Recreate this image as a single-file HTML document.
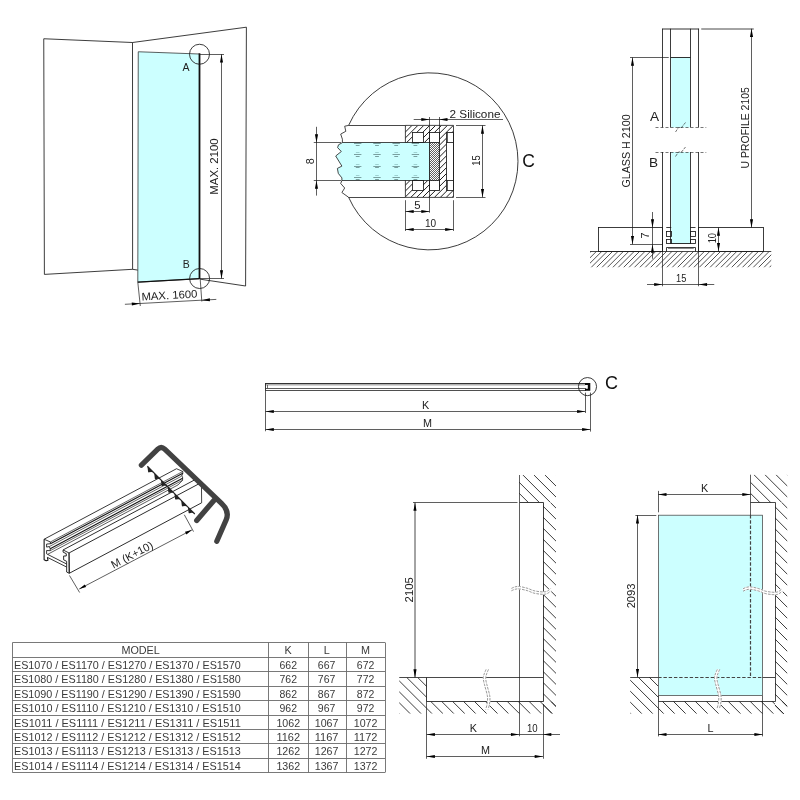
<!DOCTYPE html>
<html><head><meta charset="utf-8"><title>Drawing</title>
<style>html,body{margin:0;padding:0;background:#fff;overflow:hidden}svg{display:block;will-change:transform;opacity:0.9999}</style></head>
<body>
<svg width="800" height="800" viewBox="0 0 800 800" font-family="'Liberation Sans', sans-serif">
<rect x="0" y="0" width="800" height="800" fill="#fff"/>
<g id="room">
<path d="M43.75,38.75 L132.50,42.50 L132.60,269.30 L44.40,274.40 Z" fill="none" stroke="#1a1a1a" stroke-width="0.85" />
<path d="M132.50,42.50 L246.40,27.20 L245.60,286.00 L200.20,279.20" fill="none" stroke="#1a1a1a" stroke-width="0.85" />
<line x1="132.60" y1="269.30" x2="137.80" y2="270.10" stroke="#1a1a1a" stroke-width="0.85" />
<path d="M138.25,51.75 L199.50,54.00 L199.50,278.70 L137.80,282.20 Z" fill="#ccffff" stroke="#1a1a1a" stroke-width="0.7" />
<line x1="199.50" y1="53.30" x2="199.50" y2="279.00" stroke="#111" stroke-width="1.8" />
<line x1="137.80" y1="282.20" x2="199.50" y2="278.70" stroke="#111" stroke-width="1.3" />
<circle cx="199.5" cy="54.25" r="10" fill="none" stroke="#1a1a1a" stroke-width="0.85"/>
<circle cx="199.6" cy="278.5" r="10" fill="none" stroke="#1a1a1a" stroke-width="0.85"/>
<line x1="199.50" y1="54.50" x2="224.00" y2="54.50" stroke="#1a1a1a" stroke-width="0.7" />
<line x1="199.50" y1="278.50" x2="224.00" y2="278.50" stroke="#1a1a1a" stroke-width="0.7" />
<line x1="221.50" y1="54.25" x2="221.50" y2="278.50" stroke="#1a1a1a" stroke-width="0.7" />
<path d="M221.50,54.25 L223.05,62.55 L219.95,62.55 Z" fill="#000"/>
<path d="M221.50,278.50 L219.95,270.20 L223.05,270.20 Z" fill="#000"/>
<text transform="translate(214.40,166.50) rotate(-90)" x="0" y="3.94" font-size="11" text-anchor="middle" fill="#222" textLength="56.4" lengthAdjust="spacingAndGlyphs">MAX. 2100</text>
<text transform="translate(186.00,67.30) rotate(0)" x="0" y="3.76" font-size="10.5" text-anchor="middle" fill="#222">A</text>
<text transform="translate(186.30,264.50) rotate(0)" x="0" y="3.76" font-size="10.5" text-anchor="middle" fill="#222">B</text>
<line x1="137.80" y1="282.20" x2="140.30" y2="306.00" stroke="#1a1a1a" stroke-width="0.7" />
<line x1="200.20" y1="279.00" x2="201.80" y2="301.50" stroke="#1a1a1a" stroke-width="0.7" />
<line x1="124.90" y1="304.30" x2="216.30" y2="299.40" stroke="#1a1a1a" stroke-width="0.7" />
<path d="M140.10,303.50 L131.89,305.49 L131.73,302.40 Z" fill="#000"/>
<path d="M201.60,300.20 L209.81,298.21 L209.97,301.30 Z" fill="#000"/>
<text transform="translate(169.40,295.00) rotate(-3)" x="0" y="3.94" font-size="11" text-anchor="middle" fill="#222" textLength="56" lengthAdjust="spacingAndGlyphs">MAX. 1600</text>
</g>
<g id="detailC">
<path d="M348.60,125.4 A88.5,88.5 0 1 1 348.60,197.3" fill="none" stroke="#1a1a1a" stroke-width="0.85"/>
<path d="M429.6,142.6 L342.4,142.6 L338.5,144.8 L337.6,147.6 L341.3,151.5 L335.7,156 L341.9,166.1 L337.4,168.4 L338.3,173.4 L341.9,177.9 L341.9,180.4 L429.6,180.4 Z" fill="#ccffff" stroke="none"/>
<path d="M348.6,125.4 L344.7,126.2 L345.8,131.3 L340.7,134.1 L342.4,139.2 L342.4,142.6 L338.5,144.8 L337.6,147.6 L341.3,151.5 L335.7,156 L341.9,166.1 L337.4,168.4 L338.3,173.4 L341.9,177.9 L341.9,180.4 L340.7,183.5 L344.7,188 L341.9,192.5 L348.6,197.3" fill="none" stroke="#1a1a1a" stroke-width="0.8" stroke-linejoin="round"/>
<line x1="342.40" y1="142.50" x2="429.60" y2="142.50" stroke="#1a1a1a" stroke-width="0.8" />
<line x1="341.90" y1="180.50" x2="429.60" y2="180.50" stroke="#1a1a1a" stroke-width="0.8" />
<line x1="348.60" y1="125.50" x2="405.40" y2="125.50" stroke="#1a1a1a" stroke-width="0.8" />
<line x1="348.60" y1="197.50" x2="405.40" y2="197.50" stroke="#1a1a1a" stroke-width="0.8" />
<line x1="354.00" y1="143.50" x2="361.40" y2="143.50" stroke="#577" stroke-width="0.7" />
<line x1="355.80" y1="145.50" x2="359.60" y2="145.50" stroke="#577" stroke-width="0.7" />
<line x1="355.90" y1="152.50" x2="359.50" y2="152.50" stroke="#7aa" stroke-width="0.55" />
<line x1="354.00" y1="154.50" x2="361.40" y2="154.50" stroke="#577" stroke-width="0.7" />
<line x1="355.80" y1="156.50" x2="359.60" y2="156.50" stroke="#577" stroke-width="0.7" />
<line x1="355.90" y1="164.50" x2="359.50" y2="164.50" stroke="#7aa" stroke-width="0.55" />
<line x1="354.00" y1="166.50" x2="361.40" y2="166.50" stroke="#577" stroke-width="0.7" />
<line x1="355.80" y1="167.50" x2="359.60" y2="167.50" stroke="#577" stroke-width="0.7" />
<line x1="355.90" y1="175.50" x2="359.50" y2="175.50" stroke="#7aa" stroke-width="0.55" />
<line x1="354.00" y1="177.50" x2="361.40" y2="177.50" stroke="#577" stroke-width="0.7" />
<line x1="355.80" y1="179.50" x2="359.60" y2="179.50" stroke="#577" stroke-width="0.7" />
<line x1="373.30" y1="143.50" x2="380.70" y2="143.50" stroke="#577" stroke-width="0.7" />
<line x1="375.10" y1="145.50" x2="378.90" y2="145.50" stroke="#577" stroke-width="0.7" />
<line x1="375.20" y1="152.50" x2="378.80" y2="152.50" stroke="#7aa" stroke-width="0.55" />
<line x1="373.30" y1="154.50" x2="380.70" y2="154.50" stroke="#577" stroke-width="0.7" />
<line x1="375.10" y1="156.50" x2="378.90" y2="156.50" stroke="#577" stroke-width="0.7" />
<line x1="375.20" y1="164.50" x2="378.80" y2="164.50" stroke="#7aa" stroke-width="0.55" />
<line x1="373.30" y1="166.50" x2="380.70" y2="166.50" stroke="#577" stroke-width="0.7" />
<line x1="375.10" y1="167.50" x2="378.90" y2="167.50" stroke="#577" stroke-width="0.7" />
<line x1="375.20" y1="175.50" x2="378.80" y2="175.50" stroke="#7aa" stroke-width="0.55" />
<line x1="373.30" y1="177.50" x2="380.70" y2="177.50" stroke="#577" stroke-width="0.7" />
<line x1="375.10" y1="179.50" x2="378.90" y2="179.50" stroke="#577" stroke-width="0.7" />
<line x1="392.50" y1="143.50" x2="399.90" y2="143.50" stroke="#577" stroke-width="0.7" />
<line x1="394.30" y1="145.50" x2="398.10" y2="145.50" stroke="#577" stroke-width="0.7" />
<line x1="394.40" y1="152.50" x2="398.00" y2="152.50" stroke="#7aa" stroke-width="0.55" />
<line x1="392.50" y1="154.50" x2="399.90" y2="154.50" stroke="#577" stroke-width="0.7" />
<line x1="394.30" y1="156.50" x2="398.10" y2="156.50" stroke="#577" stroke-width="0.7" />
<line x1="394.40" y1="164.50" x2="398.00" y2="164.50" stroke="#7aa" stroke-width="0.55" />
<line x1="392.50" y1="166.50" x2="399.90" y2="166.50" stroke="#577" stroke-width="0.7" />
<line x1="394.30" y1="167.50" x2="398.10" y2="167.50" stroke="#577" stroke-width="0.7" />
<line x1="394.40" y1="175.50" x2="398.00" y2="175.50" stroke="#7aa" stroke-width="0.55" />
<line x1="392.50" y1="177.50" x2="399.90" y2="177.50" stroke="#577" stroke-width="0.7" />
<line x1="394.30" y1="179.50" x2="398.10" y2="179.50" stroke="#577" stroke-width="0.7" />
<line x1="411.70" y1="143.50" x2="419.10" y2="143.50" stroke="#577" stroke-width="0.7" />
<line x1="413.50" y1="145.50" x2="417.30" y2="145.50" stroke="#577" stroke-width="0.7" />
<line x1="413.60" y1="152.50" x2="417.20" y2="152.50" stroke="#7aa" stroke-width="0.55" />
<line x1="411.70" y1="154.50" x2="419.10" y2="154.50" stroke="#577" stroke-width="0.7" />
<line x1="413.50" y1="156.50" x2="417.30" y2="156.50" stroke="#577" stroke-width="0.7" />
<line x1="413.60" y1="164.50" x2="417.20" y2="164.50" stroke="#7aa" stroke-width="0.55" />
<line x1="411.70" y1="166.50" x2="419.10" y2="166.50" stroke="#577" stroke-width="0.7" />
<line x1="413.50" y1="167.50" x2="417.30" y2="167.50" stroke="#577" stroke-width="0.7" />
<line x1="413.60" y1="175.50" x2="417.20" y2="175.50" stroke="#7aa" stroke-width="0.55" />
<line x1="411.70" y1="177.50" x2="419.10" y2="177.50" stroke="#577" stroke-width="0.7" />
<line x1="413.50" y1="179.50" x2="417.30" y2="179.50" stroke="#577" stroke-width="0.7" />
<clipPath id="prof"><path clip-rule="evenodd" d="M405.4,125.4 H453.5 V197.4 H405.4 Z M412.4,132.6 V142.6 H423 V132.6 Z M429.6,132.6 V190.4 H439.2 V132.6 Z M412.4,180.4 V190.4 H423 V180.4 Z M446.4,132.6 V190.4 H453.5 V132.6 Z M405.4,142.6 V180.4 H429.6 V142.6 Z"/></clipPath>
<g clip-path="url(#prof)">
<line x1="294.00" y1="125.40" x2="222.00" y2="197.40" stroke="#111" stroke-width="0.95" />
<line x1="299.90" y1="125.40" x2="227.90" y2="197.40" stroke="#111" stroke-width="0.95" />
<line x1="305.80" y1="125.40" x2="233.80" y2="197.40" stroke="#111" stroke-width="0.95" />
<line x1="311.70" y1="125.40" x2="239.70" y2="197.40" stroke="#111" stroke-width="0.95" />
<line x1="317.60" y1="125.40" x2="245.60" y2="197.40" stroke="#111" stroke-width="0.95" />
<line x1="323.50" y1="125.40" x2="251.50" y2="197.40" stroke="#111" stroke-width="0.95" />
<line x1="329.40" y1="125.40" x2="257.40" y2="197.40" stroke="#111" stroke-width="0.95" />
<line x1="335.30" y1="125.40" x2="263.30" y2="197.40" stroke="#111" stroke-width="0.95" />
<line x1="341.20" y1="125.40" x2="269.20" y2="197.40" stroke="#111" stroke-width="0.95" />
<line x1="347.10" y1="125.40" x2="275.10" y2="197.40" stroke="#111" stroke-width="0.95" />
<line x1="353.00" y1="125.40" x2="281.00" y2="197.40" stroke="#111" stroke-width="0.95" />
<line x1="358.90" y1="125.40" x2="286.90" y2="197.40" stroke="#111" stroke-width="0.95" />
<line x1="364.80" y1="125.40" x2="292.80" y2="197.40" stroke="#111" stroke-width="0.95" />
<line x1="370.70" y1="125.40" x2="298.70" y2="197.40" stroke="#111" stroke-width="0.95" />
<line x1="376.60" y1="125.40" x2="304.60" y2="197.40" stroke="#111" stroke-width="0.95" />
<line x1="382.50" y1="125.40" x2="310.50" y2="197.40" stroke="#111" stroke-width="0.95" />
<line x1="388.40" y1="125.40" x2="316.40" y2="197.40" stroke="#111" stroke-width="0.95" />
<line x1="394.30" y1="125.40" x2="322.30" y2="197.40" stroke="#111" stroke-width="0.95" />
<line x1="400.20" y1="125.40" x2="328.20" y2="197.40" stroke="#111" stroke-width="0.95" />
<line x1="406.10" y1="125.40" x2="334.10" y2="197.40" stroke="#111" stroke-width="0.95" />
<line x1="412.00" y1="125.40" x2="340.00" y2="197.40" stroke="#111" stroke-width="0.95" />
<line x1="417.90" y1="125.40" x2="345.90" y2="197.40" stroke="#111" stroke-width="0.95" />
<line x1="423.80" y1="125.40" x2="351.80" y2="197.40" stroke="#111" stroke-width="0.95" />
<line x1="429.70" y1="125.40" x2="357.70" y2="197.40" stroke="#111" stroke-width="0.95" />
<line x1="435.60" y1="125.40" x2="363.60" y2="197.40" stroke="#111" stroke-width="0.95" />
<line x1="441.50" y1="125.40" x2="369.50" y2="197.40" stroke="#111" stroke-width="0.95" />
<line x1="447.40" y1="125.40" x2="375.40" y2="197.40" stroke="#111" stroke-width="0.95" />
<line x1="453.30" y1="125.40" x2="381.30" y2="197.40" stroke="#111" stroke-width="0.95" />
<line x1="459.20" y1="125.40" x2="387.20" y2="197.40" stroke="#111" stroke-width="0.95" />
<line x1="465.10" y1="125.40" x2="393.10" y2="197.40" stroke="#111" stroke-width="0.95" />
<line x1="471.00" y1="125.40" x2="399.00" y2="197.40" stroke="#111" stroke-width="0.95" />
<line x1="476.90" y1="125.40" x2="404.90" y2="197.40" stroke="#111" stroke-width="0.95" />
<line x1="482.80" y1="125.40" x2="410.80" y2="197.40" stroke="#111" stroke-width="0.95" />
<line x1="488.70" y1="125.40" x2="416.70" y2="197.40" stroke="#111" stroke-width="0.95" />
<line x1="494.60" y1="125.40" x2="422.60" y2="197.40" stroke="#111" stroke-width="0.95" />
<line x1="500.50" y1="125.40" x2="428.50" y2="197.40" stroke="#111" stroke-width="0.95" />
<line x1="506.40" y1="125.40" x2="434.40" y2="197.40" stroke="#111" stroke-width="0.95" />
<line x1="512.30" y1="125.40" x2="440.30" y2="197.40" stroke="#111" stroke-width="0.95" />
<line x1="518.20" y1="125.40" x2="446.20" y2="197.40" stroke="#111" stroke-width="0.95" />
<line x1="524.10" y1="125.40" x2="452.10" y2="197.40" stroke="#111" stroke-width="0.95" />
<line x1="530.00" y1="125.40" x2="458.00" y2="197.40" stroke="#111" stroke-width="0.95" />
</g>
<path d="M405.40,142.60 L405.40,125.40 L453.50,125.40 L453.50,197.40 L405.40,197.40 L405.40,180.40" fill="none" stroke="#1a1a1a" stroke-width="0.8" />
<rect x="412.50" y="132.50" width="11.00" height="10.00" fill="none" stroke="#1a1a1a" stroke-width="0.85"/>
<rect x="412.50" y="180.50" width="11.00" height="10.00" fill="none" stroke="#1a1a1a" stroke-width="0.85"/>
<rect x="429.50" y="132.50" width="10.00" height="10.00" fill="none" stroke="#1a1a1a" stroke-width="0.85"/>
<rect x="429.50" y="180.50" width="10.00" height="10.00" fill="none" stroke="#1a1a1a" stroke-width="0.85"/>
<pattern id="dots" x="430" y="143" width="2" height="2" patternUnits="userSpaceOnUse"><rect width="2" height="2" fill="#fff"/><rect x="0.05" y="0.05" width="0.9" height="0.9" fill="#3a3a3a"/><rect x="1.05" y="1.05" width="0.9" height="0.9" fill="#3a3a3a"/></pattern>
<rect x="429.6" y="142.6" width="9.6" height="37.8" fill="url(#dots)" stroke="#1a1a1a" stroke-width="0.6"/>
<line x1="429.50" y1="117.00" x2="429.50" y2="212.70" stroke="#1a1a1a" stroke-width="0.7" />
<line x1="439.50" y1="117.00" x2="439.50" y2="190.40" stroke="#1a1a1a" stroke-width="0.7" />
<rect x="446.50" y="132.50" width="7.00" height="58.00" fill="none" stroke="#1a1a1a" stroke-width="0.85"/>
<line x1="446.40" y1="142.50" x2="453.50" y2="142.50" stroke="#1a1a1a" stroke-width="0.85" />
<line x1="446.40" y1="180.50" x2="453.50" y2="180.50" stroke="#1a1a1a" stroke-width="0.85" />
<line x1="447.50" y1="132.60" x2="447.50" y2="142.60" stroke="#1a1a1a" stroke-width="0.7" />
<line x1="447.50" y1="180.40" x2="447.50" y2="190.40" stroke="#1a1a1a" stroke-width="0.7" />
<line x1="313.75" y1="142.50" x2="341.00" y2="142.50" stroke="#1a1a1a" stroke-width="0.7" />
<line x1="313.75" y1="180.50" x2="341.00" y2="180.50" stroke="#1a1a1a" stroke-width="0.7" />
<line x1="316.50" y1="126.80" x2="316.50" y2="195.60" stroke="#1a1a1a" stroke-width="0.7" />
<path d="M316.50,142.60 L314.95,134.30 L318.05,134.30 Z" fill="#000"/>
<path d="M316.50,180.40 L318.05,188.70 L314.95,188.70 Z" fill="#000"/>
<text transform="translate(310.30,161.20) rotate(-90)" x="0" y="3.87" font-size="10.8" text-anchor="middle" fill="#222">8</text>
<line x1="456.00" y1="125.50" x2="485.50" y2="125.50" stroke="#1a1a1a" stroke-width="0.7" />
<line x1="456.00" y1="197.50" x2="485.50" y2="197.50" stroke="#1a1a1a" stroke-width="0.7" />
<line x1="482.50" y1="125.40" x2="482.50" y2="197.30" stroke="#1a1a1a" stroke-width="0.7" />
<path d="M482.50,125.40 L484.05,133.70 L480.95,133.70 Z" fill="#000"/>
<path d="M482.50,197.30 L480.95,189.00 L484.05,189.00 Z" fill="#000"/>
<text transform="translate(476.40,160.60) rotate(-90)" x="0" y="3.87" font-size="10.8" text-anchor="middle" fill="#222" textLength="10.3" lengthAdjust="spacingAndGlyphs">15</text>
<line x1="413.70" y1="119.50" x2="503.00" y2="119.50" stroke="#1a1a1a" stroke-width="0.7" />
<path d="M429.60,119.50 L421.30,121.05 L421.30,117.95 Z" fill="#000"/>
<path d="M439.20,119.50 L447.50,117.95 L447.50,121.05 Z" fill="#000"/>
<text transform="translate(449.50,113.50) rotate(0)" x="0" y="4.05" font-size="11.3" text-anchor="start" fill="#222" textLength="51" lengthAdjust="spacingAndGlyphs">2 Silicone</text>
<line x1="405.50" y1="200.20" x2="405.50" y2="231.00" stroke="#1a1a1a" stroke-width="0.7" />
<line x1="453.50" y1="200.20" x2="453.50" y2="231.00" stroke="#1a1a1a" stroke-width="0.7" />
<line x1="405.40" y1="211.50" x2="429.60" y2="211.50" stroke="#1a1a1a" stroke-width="0.7" />
<path d="M405.40,211.50 L413.70,209.95 L413.70,213.05 Z" fill="#000"/>
<path d="M429.60,211.50 L421.30,213.05 L421.30,209.95 Z" fill="#000"/>
<line x1="405.40" y1="229.50" x2="453.50" y2="229.50" stroke="#1a1a1a" stroke-width="0.7" />
<path d="M405.40,229.50 L413.70,227.95 L413.70,231.05 Z" fill="#000"/>
<path d="M453.50,229.50 L445.20,231.05 L445.20,227.95 Z" fill="#000"/>
<text transform="translate(417.50,205.20) rotate(0)" x="0" y="4.05" font-size="11.3" text-anchor="middle" fill="#222">5</text>
<text transform="translate(430.50,223.20) rotate(0)" x="0" y="4.05" font-size="11.3" text-anchor="middle" fill="#222" textLength="11.2" lengthAdjust="spacingAndGlyphs">10</text>
<text transform="translate(528.50,160.70) rotate(0)" x="0" y="6.26" font-size="17.5" text-anchor="middle" fill="#111">C</text>
</g>
<g id="section">
<clipPath id="c1"><rect x="590.00" y="251.25" width="181.25" height="16.25"/></clipPath>
<g clip-path="url(#c1)">
<line x1="585.75" y1="251.25" x2="569.50" y2="267.50" stroke="#1a1a1a" stroke-width="0.75" />
<line x1="591.15" y1="251.25" x2="574.90" y2="267.50" stroke="#1a1a1a" stroke-width="0.75" />
<line x1="596.55" y1="251.25" x2="580.30" y2="267.50" stroke="#1a1a1a" stroke-width="0.75" />
<line x1="601.95" y1="251.25" x2="585.70" y2="267.50" stroke="#1a1a1a" stroke-width="0.75" />
<line x1="607.35" y1="251.25" x2="591.10" y2="267.50" stroke="#1a1a1a" stroke-width="0.75" />
<line x1="612.75" y1="251.25" x2="596.50" y2="267.50" stroke="#1a1a1a" stroke-width="0.75" />
<line x1="618.15" y1="251.25" x2="601.90" y2="267.50" stroke="#1a1a1a" stroke-width="0.75" />
<line x1="623.55" y1="251.25" x2="607.30" y2="267.50" stroke="#1a1a1a" stroke-width="0.75" />
<line x1="628.95" y1="251.25" x2="612.70" y2="267.50" stroke="#1a1a1a" stroke-width="0.75" />
<line x1="634.35" y1="251.25" x2="618.10" y2="267.50" stroke="#1a1a1a" stroke-width="0.75" />
<line x1="639.75" y1="251.25" x2="623.50" y2="267.50" stroke="#1a1a1a" stroke-width="0.75" />
<line x1="645.15" y1="251.25" x2="628.90" y2="267.50" stroke="#1a1a1a" stroke-width="0.75" />
<line x1="650.55" y1="251.25" x2="634.30" y2="267.50" stroke="#1a1a1a" stroke-width="0.75" />
<line x1="655.95" y1="251.25" x2="639.70" y2="267.50" stroke="#1a1a1a" stroke-width="0.75" />
<line x1="661.35" y1="251.25" x2="645.10" y2="267.50" stroke="#1a1a1a" stroke-width="0.75" />
<line x1="666.75" y1="251.25" x2="650.50" y2="267.50" stroke="#1a1a1a" stroke-width="0.75" />
<line x1="672.15" y1="251.25" x2="655.90" y2="267.50" stroke="#1a1a1a" stroke-width="0.75" />
<line x1="677.55" y1="251.25" x2="661.30" y2="267.50" stroke="#1a1a1a" stroke-width="0.75" />
<line x1="682.95" y1="251.25" x2="666.70" y2="267.50" stroke="#1a1a1a" stroke-width="0.75" />
<line x1="688.35" y1="251.25" x2="672.10" y2="267.50" stroke="#1a1a1a" stroke-width="0.75" />
<line x1="693.75" y1="251.25" x2="677.50" y2="267.50" stroke="#1a1a1a" stroke-width="0.75" />
<line x1="699.15" y1="251.25" x2="682.90" y2="267.50" stroke="#1a1a1a" stroke-width="0.75" />
<line x1="704.55" y1="251.25" x2="688.30" y2="267.50" stroke="#1a1a1a" stroke-width="0.75" />
<line x1="709.95" y1="251.25" x2="693.70" y2="267.50" stroke="#1a1a1a" stroke-width="0.75" />
<line x1="715.35" y1="251.25" x2="699.10" y2="267.50" stroke="#1a1a1a" stroke-width="0.75" />
<line x1="720.75" y1="251.25" x2="704.50" y2="267.50" stroke="#1a1a1a" stroke-width="0.75" />
<line x1="726.15" y1="251.25" x2="709.90" y2="267.50" stroke="#1a1a1a" stroke-width="0.75" />
<line x1="731.55" y1="251.25" x2="715.30" y2="267.50" stroke="#1a1a1a" stroke-width="0.75" />
<line x1="736.95" y1="251.25" x2="720.70" y2="267.50" stroke="#1a1a1a" stroke-width="0.75" />
<line x1="742.35" y1="251.25" x2="726.10" y2="267.50" stroke="#1a1a1a" stroke-width="0.75" />
<line x1="747.75" y1="251.25" x2="731.50" y2="267.50" stroke="#1a1a1a" stroke-width="0.75" />
<line x1="753.15" y1="251.25" x2="736.90" y2="267.50" stroke="#1a1a1a" stroke-width="0.75" />
<line x1="758.55" y1="251.25" x2="742.30" y2="267.50" stroke="#1a1a1a" stroke-width="0.75" />
<line x1="763.95" y1="251.25" x2="747.70" y2="267.50" stroke="#1a1a1a" stroke-width="0.75" />
<line x1="769.35" y1="251.25" x2="753.10" y2="267.50" stroke="#1a1a1a" stroke-width="0.75" />
<line x1="774.75" y1="251.25" x2="758.50" y2="267.50" stroke="#1a1a1a" stroke-width="0.75" />
<line x1="780.15" y1="251.25" x2="763.90" y2="267.50" stroke="#1a1a1a" stroke-width="0.75" />
<line x1="785.55" y1="251.25" x2="769.30" y2="267.50" stroke="#1a1a1a" stroke-width="0.75" />
<line x1="790.95" y1="251.25" x2="774.70" y2="267.50" stroke="#1a1a1a" stroke-width="0.75" />
</g>
<line x1="590.00" y1="251.50" x2="771.25" y2="251.50" stroke="#1a1a1a" stroke-width="0.8" />
<rect x="598.50" y="227.50" width="64.00" height="24.00" fill="none" stroke="#1a1a1a" stroke-width="0.85"/>
<rect x="698.50" y="227.50" width="65.00" height="24.00" fill="none" stroke="#1a1a1a" stroke-width="0.85"/>
<rect x="671.25" y="57.5" width="18.75" height="70" fill="#ccffff"/>
<rect x="671.25" y="152" width="18.75" height="91.75" fill="#ccffff"/>
<line x1="662.50" y1="28.75" x2="662.50" y2="127.50" stroke="#1a1a1a" stroke-width="0.85" />
<line x1="670.50" y1="28.75" x2="670.50" y2="127.50" stroke="#1a1a1a" stroke-width="0.85" />
<line x1="690.50" y1="28.75" x2="690.50" y2="127.50" stroke="#1a1a1a" stroke-width="0.85" />
<line x1="698.50" y1="28.75" x2="698.50" y2="127.50" stroke="#1a1a1a" stroke-width="0.85" />
<line x1="662.50" y1="152.00" x2="662.50" y2="251.25" stroke="#1a1a1a" stroke-width="0.85" />
<line x1="698.50" y1="152.00" x2="698.50" y2="251.25" stroke="#1a1a1a" stroke-width="0.85" />
<line x1="670.50" y1="152.00" x2="670.50" y2="243.75" stroke="#1a1a1a" stroke-width="0.85" />
<line x1="690.50" y1="152.00" x2="690.50" y2="243.75" stroke="#1a1a1a" stroke-width="0.85" />
<line x1="662.10" y1="29.00" x2="699.10" y2="29.00" stroke="#1a1a1a" stroke-width="0.9" />
<line x1="670.60" y1="57.50" x2="690.50" y2="57.50" stroke="#1a1a1a" stroke-width="0.9" />
<line x1="670.60" y1="243.50" x2="690.50" y2="243.50" stroke="#1a1a1a" stroke-width="0.9" />
<line x1="655.50" y1="127.50" x2="706.25" y2="127.50" stroke="#1a1a1a" stroke-width="0.6" stroke-dasharray="3,2"/>
<line x1="655.50" y1="152.50" x2="706.25" y2="152.50" stroke="#1a1a1a" stroke-width="0.6" stroke-dasharray="3,2"/>
<path d="M675.5,132 L678.5,127.5 L681.5,127.5 L685.5,122.5" fill="none" stroke="#1a1a1a" stroke-width="0.6" stroke-dasharray="3,1"/>
<path d="M675.5,156.5 L678.5,152 L681.5,152 L685.5,147" fill="none" stroke="#1a1a1a" stroke-width="0.6" stroke-dasharray="3,1"/>
<rect x="666.50" y="231.50" width="5.00" height="5.00" fill="none" stroke="#1a1a1a" stroke-width="0.85"/>
<rect x="666.50" y="239.50" width="5.00" height="4.00" fill="none" stroke="#1a1a1a" stroke-width="0.85"/>
<rect x="690.50" y="231.50" width="5.00" height="5.00" fill="none" stroke="#1a1a1a" stroke-width="0.85"/>
<rect x="690.50" y="239.50" width="5.00" height="4.00" fill="none" stroke="#1a1a1a" stroke-width="0.85"/>
<line x1="666.25" y1="227.50" x2="671.25" y2="227.50" stroke="#1a1a1a" stroke-width="0.85" />
<line x1="690.00" y1="227.50" x2="695.50" y2="227.50" stroke="#1a1a1a" stroke-width="0.85" />
<path d="M666.50,251.50 L666.50,247.50 L695.50,247.50 L695.50,251.50" fill="none" stroke="#1a1a1a" stroke-width="0.85" />
<line x1="668.00" y1="248.50" x2="693.70" y2="248.50" stroke="#1a1a1a" stroke-width="0.5" />
<line x1="630.00" y1="57.50" x2="668.75" y2="57.50" stroke="#1a1a1a" stroke-width="0.7" />
<line x1="630.00" y1="244.50" x2="662.50" y2="244.50" stroke="#1a1a1a" stroke-width="0.7" />
<line x1="632.50" y1="57.50" x2="632.50" y2="244.25" stroke="#1a1a1a" stroke-width="0.7" />
<path d="M632.50,57.50 L634.05,65.80 L630.95,65.80 Z" fill="#000"/>
<path d="M632.50,244.25 L630.95,235.95 L634.05,235.95 Z" fill="#000"/>
<text transform="translate(626.40,151.00) rotate(-90)" x="0" y="3.87" font-size="10.8" text-anchor="middle" fill="#222" textLength="73.2" lengthAdjust="spacingAndGlyphs">GLASS H 2100</text>
<line x1="701.25" y1="29.00" x2="753.75" y2="29.00" stroke="#1a1a1a" stroke-width="0.8" />
<line x1="751.50" y1="28.75" x2="751.50" y2="227.50" stroke="#1a1a1a" stroke-width="0.7" />
<path d="M751.50,28.75 L753.05,37.05 L749.95,37.05 Z" fill="#000"/>
<path d="M751.50,227.50 L749.95,219.20 L753.05,219.20 Z" fill="#000"/>
<text transform="translate(744.90,127.80) rotate(-90)" x="0" y="3.87" font-size="10.8" text-anchor="middle" fill="#222" textLength="81.2" lengthAdjust="spacingAndGlyphs">U PROFILE 2105</text>
<text transform="translate(654.60,116.00) rotate(0)" x="0" y="4.87" font-size="13.6" text-anchor="middle" fill="#222">A</text>
<text transform="translate(653.60,162.00) rotate(0)" x="0" y="4.87" font-size="13.6" text-anchor="middle" fill="#222">B</text>
<line x1="652.50" y1="212.00" x2="652.50" y2="258.75" stroke="#1a1a1a" stroke-width="0.7" />
<path d="M652.50,227.50 L650.95,219.20 L654.05,219.20 Z" fill="#000"/>
<path d="M652.50,244.40 L654.05,252.70 L650.95,252.70 Z" fill="#000"/>
<text transform="translate(645.60,235.60) rotate(-90)" x="0" y="3.87" font-size="10.8" text-anchor="middle" fill="#222">7</text>
<line x1="718.50" y1="227.50" x2="718.50" y2="251.25" stroke="#1a1a1a" stroke-width="0.7" />
<path d="M718.50,227.50 L720.05,235.80 L716.95,235.80 Z" fill="#000"/>
<path d="M718.50,251.25 L716.95,242.95 L720.05,242.95 Z" fill="#000"/>
<text transform="translate(711.75,238.20) rotate(-90)" x="0" y="3.87" font-size="10.8" text-anchor="middle" fill="#222" textLength="10.3" lengthAdjust="spacingAndGlyphs">10</text>
<line x1="662.50" y1="251.25" x2="662.50" y2="286.25" stroke="#1a1a1a" stroke-width="0.7" />
<line x1="698.50" y1="251.25" x2="698.50" y2="286.25" stroke="#1a1a1a" stroke-width="0.7" />
<line x1="647.00" y1="284.50" x2="714.25" y2="284.50" stroke="#1a1a1a" stroke-width="0.7" />
<path d="M662.50,284.50 L654.20,286.05 L654.20,282.95 Z" fill="#000"/>
<path d="M698.75,284.50 L707.05,282.95 L707.05,286.05 Z" fill="#000"/>
<text transform="translate(681.25,278.00) rotate(0)" x="0" y="3.87" font-size="10.8" text-anchor="middle" fill="#222" textLength="10.3" lengthAdjust="spacingAndGlyphs">15</text>
</g>
<g id="long">
<rect x="265.3" y="383" width="320" height="1.3" fill="#333"/>
<rect x="265.3" y="384.3" width="320" height="1.2" fill="#aaa"/>
<line x1="265.30" y1="388.50" x2="586.00" y2="388.50" stroke="#333" stroke-width="0.8" />
<line x1="265.30" y1="390.50" x2="586.00" y2="390.50" stroke="#222" stroke-width="0.8" />
<line x1="265.50" y1="383.00" x2="265.50" y2="390.60" stroke="#222" stroke-width="0.9" />
<line x1="267.50" y1="385.00" x2="267.50" y2="388.40" stroke="#333" stroke-width="0.7" />
<path d="M585,383 H590.3 V390.7 H585 V388.7 H587.8 V385 H585 Z" fill="#0a0a0a"/>
<circle cx="587.5" cy="386.6" r="9.05" fill="none" stroke="#1a1a1a" stroke-width="0.85"/>
<text transform="translate(611.60,382.60) rotate(0)" x="0" y="6.44" font-size="18" text-anchor="middle" fill="#111">C</text>
<line x1="265.50" y1="390.50" x2="265.50" y2="431.25" stroke="#1a1a1a" stroke-width="0.7" />
<line x1="585.50" y1="392.60" x2="585.50" y2="413.00" stroke="#1a1a1a" stroke-width="0.7" />
<line x1="590.50" y1="392.60" x2="590.50" y2="431.60" stroke="#1a1a1a" stroke-width="0.7" />
<line x1="265.50" y1="411.50" x2="585.40" y2="411.50" stroke="#1a1a1a" stroke-width="0.7" />
<path d="M265.50,411.50 L273.80,409.95 L273.80,413.05 Z" fill="#000"/>
<path d="M585.40,411.50 L577.10,413.05 L577.10,409.95 Z" fill="#000"/>
<line x1="265.50" y1="429.50" x2="590.40" y2="429.50" stroke="#1a1a1a" stroke-width="0.7" />
<path d="M265.50,429.50 L273.80,427.95 L273.80,431.05 Z" fill="#000"/>
<path d="M590.40,429.50 L582.10,431.05 L582.10,427.95 Z" fill="#000"/>
<text transform="translate(425.50,405.50) rotate(0)" x="0" y="3.87" font-size="10.8" text-anchor="middle" fill="#222">K</text>
<text transform="translate(427.50,423.40) rotate(0)" x="0" y="3.87" font-size="10.8" text-anchor="middle" fill="#222">M</text>
</g>
<g id="iso">
<path d="M44.12,539.22 L50.40,541.98 L50.40,543.78 L46.60,544.06 L46.60,547.08 L49.30,546.57 L50.20,548.74 L50.20,550.69 L46.60,550.49 L46.60,553.79 L47.60,554.37" fill="none" stroke="#151515" stroke-width="0.85" stroke-linejoin="round"/>
<path d="M44.12,539.22 L44.12,559.84 L46.16,560.77 L47.97,560.17 L47.42,557.36" fill="none" stroke="#151515" stroke-width="1.1" stroke-linejoin="round"/>
<path d="M47.60,554.37 L66.55,563.96" fill="none" stroke="#151515" stroke-width="0.85" />
<path d="M47.42,557.36 L66.55,566.99" fill="none" stroke="#151515" stroke-width="0.85" stroke-linejoin="round"/>
<path d="M63.09,549.94 L69.03,552.97" fill="none" stroke="#151515" stroke-width="0.85" stroke-linejoin="round"/>
<path d="M63.09,549.94 L63.09,552.14 L66.28,553.68 L66.28,555.99 L63.64,555.99 L63.64,559.84 L66.66,561.32 L66.66,572.04 L69.25,573.31" fill="none" stroke="#151515" stroke-width="0.9" stroke-linejoin="round"/>
<path d="M69.03,552.97 L69.25,573.31" fill="none" stroke="#151515" stroke-width="1.3" stroke-linejoin="round"/>
<line x1="44.12" y1="539.22" x2="176.52" y2="468.72" stroke="#151515" stroke-width="0.85" />
<line x1="50.40" y1="541.98" x2="182.80" y2="471.48" stroke="#151515" stroke-width="0.65" />
<line x1="50.40" y1="543.78" x2="182.80" y2="473.28" stroke="#151515" stroke-width="1.15" />
<line x1="49.30" y1="546.57" x2="181.70" y2="476.07" stroke="#151515" stroke-width="0.65" />
<line x1="50.20" y1="548.74" x2="182.60" y2="478.24" stroke="#151515" stroke-width="1.15" />
<line x1="50.20" y1="550.69" x2="182.60" y2="480.19" stroke="#151515" stroke-width="0.65" />
<line x1="47.60" y1="554.37" x2="178.01" y2="484.93" stroke="#151515" stroke-width="0.7" />
<line x1="63.09" y1="549.94" x2="195.49" y2="479.44" stroke="#151515" stroke-width="0.9" />
<line x1="69.03" y1="552.97" x2="201.43" y2="482.47" stroke="#151515" stroke-width="0.9" />
<line x1="69.25" y1="573.31" x2="201.65" y2="502.81" stroke="#151515" stroke-width="0.9" />
<path d="M176.52,468.72 L182.80,471.48 L182.80,473.28 L181.70,476.07 L182.60,476.74 L182.60,480.19 L178.01,484.93" fill="none" stroke="#151515" stroke-width="0.8" stroke-linejoin="round"/>
<path d="M195.49,479.44 L201.43,482.47 L201.65,502.81" fill="none" stroke="#151515" stroke-width="0.8" />
<line x1="147.40" y1="466.25" x2="194.80" y2="514.00" stroke="#222" stroke-width="1.1" />
<path d="M147.40,466.25 L148.10,471.85 Q148.30,472.55 149.20,472.35 Q151.00,471.65 153.40,472.35 Z" fill="#222"/>
<path d="M154.15,473.05 L154.85,478.65 Q155.05,479.35 155.95,479.15 Q157.75,478.45 160.15,479.15 Z" fill="#222"/>
<path d="M160.90,479.85 L161.60,485.45 Q161.80,486.15 162.70,485.95 Q164.50,485.25 166.90,485.95 Z" fill="#222"/>
<path d="M167.65,486.65 L168.35,492.25 Q168.55,492.95 169.45,492.75 Q171.25,492.05 173.65,492.75 Z" fill="#222"/>
<path d="M174.40,493.45 L175.10,499.05 Q175.30,499.75 176.20,499.55 Q178.00,498.85 180.40,499.55 Z" fill="#222"/>
<path d="M181.15,500.25 L181.85,505.85 Q182.05,506.55 182.95,506.35 Q184.75,505.65 187.15,506.35 Z" fill="#222"/>
<path d="M187.90,507.05 L188.60,512.65 Q188.80,513.35 189.70,513.15 Q191.50,512.45 193.90,513.15 Z" fill="#222"/>
<path d="M141.4,465.1 L157.8,449.1 Q161.2,445.8 164.7,449.1 L221.5,503.4 Q229.8,511.2 226.2,519.8 L216.8,541.3" fill="none" stroke="#424242" stroke-width="5.3" stroke-linecap="round" stroke-linejoin="round"/>
<path d="M214.1,500.2 L196.7,520.4" fill="none" stroke="#424242" stroke-width="5.3" stroke-linecap="round"/>
<line x1="69.50" y1="575.50" x2="79.60" y2="592.50" stroke="#1a1a1a" stroke-width="0.7" />
<line x1="184.30" y1="514.75" x2="193.50" y2="531.60" stroke="#1a1a1a" stroke-width="0.7" />
<line x1="79.25" y1="589.00" x2="191.90" y2="529.90" stroke="#1a1a1a" stroke-width="0.7" />
<path d="M79.25,589.00 L84.73,584.38 L86.17,587.12 Z" fill="#000"/>
<path d="M191.90,529.90 L186.42,534.52 L184.98,531.78 Z" fill="#000"/>
<text transform="translate(131.90,554.70) rotate(-27.7)" x="0" y="3.94" font-size="11" text-anchor="middle" fill="#222" textLength="45.6" lengthAdjust="spacingAndGlyphs">M (K+10)</text>
</g>
<g id="mid">
<clipPath id="c2"><rect x="519.25" y="475.10" width="36.75" height="27.40"/></clipPath>
<g clip-path="url(#c2)">
<line x1="489.96" y1="475.10" x2="517.36" y2="502.50" stroke="#1a1a1a" stroke-width="0.85" />
<line x1="500.98" y1="475.10" x2="528.38" y2="502.50" stroke="#1a1a1a" stroke-width="0.85" />
<line x1="512.00" y1="475.10" x2="539.40" y2="502.50" stroke="#1a1a1a" stroke-width="0.85" />
<line x1="523.02" y1="475.10" x2="550.42" y2="502.50" stroke="#1a1a1a" stroke-width="0.85" />
<line x1="534.04" y1="475.10" x2="561.44" y2="502.50" stroke="#1a1a1a" stroke-width="0.85" />
<line x1="545.06" y1="475.10" x2="572.46" y2="502.50" stroke="#1a1a1a" stroke-width="0.85" />
<line x1="556.08" y1="475.10" x2="583.48" y2="502.50" stroke="#1a1a1a" stroke-width="0.85" />
</g>
<clipPath id="c3"><rect x="543.00" y="502.50" width="13.00" height="211.20"/></clipPath>
<g clip-path="url(#c3)">
<line x1="330.02" y1="502.50" x2="541.22" y2="713.70" stroke="#1a1a1a" stroke-width="0.85" />
<line x1="341.04" y1="502.50" x2="552.24" y2="713.70" stroke="#1a1a1a" stroke-width="0.85" />
<line x1="352.06" y1="502.50" x2="563.26" y2="713.70" stroke="#1a1a1a" stroke-width="0.85" />
<line x1="363.08" y1="502.50" x2="574.28" y2="713.70" stroke="#1a1a1a" stroke-width="0.85" />
<line x1="374.10" y1="502.50" x2="585.30" y2="713.70" stroke="#1a1a1a" stroke-width="0.85" />
<line x1="385.12" y1="502.50" x2="596.32" y2="713.70" stroke="#1a1a1a" stroke-width="0.85" />
<line x1="396.14" y1="502.50" x2="607.34" y2="713.70" stroke="#1a1a1a" stroke-width="0.85" />
<line x1="407.16" y1="502.50" x2="618.36" y2="713.70" stroke="#1a1a1a" stroke-width="0.85" />
<line x1="418.18" y1="502.50" x2="629.38" y2="713.70" stroke="#1a1a1a" stroke-width="0.85" />
<line x1="429.20" y1="502.50" x2="640.40" y2="713.70" stroke="#1a1a1a" stroke-width="0.85" />
<line x1="440.22" y1="502.50" x2="651.42" y2="713.70" stroke="#1a1a1a" stroke-width="0.85" />
<line x1="451.24" y1="502.50" x2="662.44" y2="713.70" stroke="#1a1a1a" stroke-width="0.85" />
<line x1="462.26" y1="502.50" x2="673.46" y2="713.70" stroke="#1a1a1a" stroke-width="0.85" />
<line x1="473.28" y1="502.50" x2="684.48" y2="713.70" stroke="#1a1a1a" stroke-width="0.85" />
<line x1="484.30" y1="502.50" x2="695.50" y2="713.70" stroke="#1a1a1a" stroke-width="0.85" />
<line x1="495.32" y1="502.50" x2="706.52" y2="713.70" stroke="#1a1a1a" stroke-width="0.85" />
<line x1="506.34" y1="502.50" x2="717.54" y2="713.70" stroke="#1a1a1a" stroke-width="0.85" />
<line x1="517.36" y1="502.50" x2="728.56" y2="713.70" stroke="#1a1a1a" stroke-width="0.85" />
<line x1="528.38" y1="502.50" x2="739.58" y2="713.70" stroke="#1a1a1a" stroke-width="0.85" />
<line x1="539.40" y1="502.50" x2="750.60" y2="713.70" stroke="#1a1a1a" stroke-width="0.85" />
<line x1="550.42" y1="502.50" x2="761.62" y2="713.70" stroke="#1a1a1a" stroke-width="0.85" />
<line x1="561.44" y1="502.50" x2="772.64" y2="713.70" stroke="#1a1a1a" stroke-width="0.85" />
</g>
<clipPath id="c4"><rect x="399.25" y="677.50" width="27.35" height="36.25"/></clipPath>
<g clip-path="url(#c4)">
<line x1="352.15" y1="677.50" x2="388.40" y2="713.75" stroke="#1a1a1a" stroke-width="0.85" />
<line x1="363.08" y1="677.50" x2="399.33" y2="713.75" stroke="#1a1a1a" stroke-width="0.85" />
<line x1="374.01" y1="677.50" x2="410.26" y2="713.75" stroke="#1a1a1a" stroke-width="0.85" />
<line x1="384.94" y1="677.50" x2="421.19" y2="713.75" stroke="#1a1a1a" stroke-width="0.85" />
<line x1="395.87" y1="677.50" x2="432.12" y2="713.75" stroke="#1a1a1a" stroke-width="0.85" />
<line x1="406.80" y1="677.50" x2="443.05" y2="713.75" stroke="#1a1a1a" stroke-width="0.85" />
<line x1="417.73" y1="677.50" x2="453.98" y2="713.75" stroke="#1a1a1a" stroke-width="0.85" />
<line x1="428.66" y1="677.50" x2="464.91" y2="713.75" stroke="#1a1a1a" stroke-width="0.85" />
</g>
<clipPath id="c5"><rect x="426.60" y="701.40" width="116.40" height="12.30"/></clipPath>
<g clip-path="url(#c5)">
<line x1="408.84" y1="701.40" x2="421.14" y2="713.70" stroke="#1a1a1a" stroke-width="0.85" />
<line x1="419.77" y1="701.40" x2="432.07" y2="713.70" stroke="#1a1a1a" stroke-width="0.85" />
<line x1="430.70" y1="701.40" x2="443.00" y2="713.70" stroke="#1a1a1a" stroke-width="0.85" />
<line x1="441.63" y1="701.40" x2="453.93" y2="713.70" stroke="#1a1a1a" stroke-width="0.85" />
<line x1="452.56" y1="701.40" x2="464.86" y2="713.70" stroke="#1a1a1a" stroke-width="0.85" />
<line x1="463.49" y1="701.40" x2="475.79" y2="713.70" stroke="#1a1a1a" stroke-width="0.85" />
<line x1="474.42" y1="701.40" x2="486.72" y2="713.70" stroke="#1a1a1a" stroke-width="0.85" />
<line x1="485.35" y1="701.40" x2="497.65" y2="713.70" stroke="#1a1a1a" stroke-width="0.85" />
<line x1="496.28" y1="701.40" x2="508.58" y2="713.70" stroke="#1a1a1a" stroke-width="0.85" />
<line x1="507.21" y1="701.40" x2="519.51" y2="713.70" stroke="#1a1a1a" stroke-width="0.85" />
<line x1="518.14" y1="701.40" x2="530.44" y2="713.70" stroke="#1a1a1a" stroke-width="0.85" />
<line x1="529.07" y1="701.40" x2="541.37" y2="713.70" stroke="#1a1a1a" stroke-width="0.85" />
<line x1="540.00" y1="701.40" x2="552.30" y2="713.70" stroke="#1a1a1a" stroke-width="0.85" />
<line x1="550.93" y1="701.40" x2="563.23" y2="713.70" stroke="#1a1a1a" stroke-width="0.85" />
</g>
<clipPath id="c6"><rect x="543.00" y="701.40" width="13.00" height="12.30"/></clipPath>
<g clip-path="url(#c6)">
<line x1="528.92" y1="701.40" x2="541.22" y2="713.70" stroke="#1a1a1a" stroke-width="0.85" />
<line x1="539.94" y1="701.40" x2="552.24" y2="713.70" stroke="#1a1a1a" stroke-width="0.85" />
<line x1="550.96" y1="701.40" x2="563.26" y2="713.70" stroke="#1a1a1a" stroke-width="0.85" />
<line x1="561.98" y1="701.40" x2="574.28" y2="713.70" stroke="#1a1a1a" stroke-width="0.85" />
</g>
<line x1="519.50" y1="475.00" x2="519.50" y2="736.25" stroke="#1a1a1a" stroke-width="0.7" />
<path d="M519.50,502.50 L543.50,502.50 L543.50,701.50" fill="none" stroke="#1a1a1a" stroke-width="0.85" />
<line x1="399.25" y1="677.50" x2="543.00" y2="677.50" stroke="#1a1a1a" stroke-width="0.8" />
<path d="M426.50,677.50 L426.50,701.50 L543.50,701.50" fill="none" stroke="#1a1a1a" stroke-width="0.85" />
<line x1="413.00" y1="502.50" x2="517.50" y2="502.50" stroke="#1a1a1a" stroke-width="0.7" />
<line x1="415.00" y1="502.50" x2="415.00" y2="677.50" stroke="#1a1a1a" stroke-width="0.8" />
<path d="M415.00,502.50 L416.55,510.80 L413.45,510.80 Z" fill="#000"/>
<path d="M415.00,677.50 L413.45,669.20 L416.55,669.20 Z" fill="#000"/>
<text transform="translate(408.60,589.75) rotate(-90)" x="0" y="4.15" font-size="11.6" text-anchor="middle" fill="#222" textLength="25.3" lengthAdjust="spacingAndGlyphs">2105</text>
<path d="M511.40,589.60 C511.99,589.35 513.63,588.42 514.94,588.10 C516.25,587.78 517.24,587.48 519.27,587.70 C521.30,587.92 524.71,588.70 527.14,589.40 C529.57,590.10 531.53,591.30 533.83,591.90 C536.12,592.50 538.95,592.83 540.91,593.00 C542.88,593.17 544.32,593.17 545.63,592.90 C546.95,592.63 547.93,591.95 548.78,591.40 C549.64,590.85 550.42,589.90 550.75,589.60" fill="none" stroke="#fff" stroke-width="3.4"/>
<path d="M511.40,588.40 C511.99,588.15 513.63,587.22 514.94,586.90 C516.25,586.58 517.24,586.28 519.27,586.50 C521.30,586.72 524.71,587.50 527.14,588.20 C529.57,588.90 531.53,590.10 533.83,590.70 C536.12,591.30 538.95,591.63 540.91,591.80 C542.88,591.97 544.32,591.97 545.63,591.70 C546.95,591.43 547.93,590.75 548.78,590.20 C549.64,589.65 550.42,588.70 550.75,588.40" fill="none" stroke="#555" stroke-width="0.6" stroke-dasharray="2.6,1.1"/>
<path d="M511.40,590.80 C511.99,590.55 513.63,589.62 514.94,589.30 C516.25,588.98 517.24,588.68 519.27,588.90 C521.30,589.12 524.71,589.90 527.14,590.60 C529.57,591.30 531.53,592.50 533.83,593.10 C536.12,593.70 538.95,594.03 540.91,594.20 C542.88,594.37 544.32,594.37 545.63,594.10 C546.95,593.83 547.93,593.15 548.78,592.60 C549.64,592.05 550.42,591.10 550.75,590.80" fill="none" stroke="#555" stroke-width="0.6" stroke-dasharray="2.6,1.1"/>
<path d="M487.30,669.40 C487.02,670.07 486.07,672.07 485.60,673.41 C485.13,674.75 484.62,676.08 484.50,677.42 C484.38,678.76 484.63,679.96 484.90,681.43 C485.17,682.90 485.50,683.90 486.10,686.24 C486.70,688.58 488.07,693.06 488.50,695.47 C488.93,697.87 488.78,699.01 488.70,700.68 C488.62,702.35 488.30,704.02 488.00,705.49 C487.70,706.96 487.08,708.83 486.90,709.50" fill="none" stroke="#fff" stroke-width="3.4"/>
<path d="M486.10,669.40 C485.82,670.07 484.87,672.07 484.40,673.41 C483.93,674.75 483.42,676.08 483.30,677.42 C483.18,678.76 483.43,679.96 483.70,681.43 C483.97,682.90 484.30,683.90 484.90,686.24 C485.50,688.58 486.87,693.06 487.30,695.47 C487.73,697.87 487.58,699.01 487.50,700.68 C487.42,702.35 487.10,704.02 486.80,705.49 C486.50,706.96 485.88,708.83 485.70,709.50" fill="none" stroke="#555" stroke-width="0.6" stroke-dasharray="2.6,1.1"/>
<path d="M488.50,669.40 C488.22,670.07 487.27,672.07 486.80,673.41 C486.33,674.75 485.82,676.08 485.70,677.42 C485.58,678.76 485.83,679.96 486.10,681.43 C486.37,682.90 486.70,683.90 487.30,686.24 C487.90,688.58 489.27,693.06 489.70,695.47 C490.13,697.87 489.98,699.01 489.90,700.68 C489.82,702.35 489.50,704.02 489.20,705.49 C488.90,706.96 488.28,708.83 488.10,709.50" fill="none" stroke="#555" stroke-width="0.6" stroke-dasharray="2.6,1.1"/>
<line x1="426.50" y1="701.25" x2="426.50" y2="758.75" stroke="#1a1a1a" stroke-width="0.7" />
<line x1="543.50" y1="704.00" x2="543.50" y2="758.75" stroke="#1a1a1a" stroke-width="0.7" />
<line x1="426.60" y1="734.50" x2="519.25" y2="734.50" stroke="#1a1a1a" stroke-width="0.7" />
<path d="M426.60,734.50 L434.90,732.95 L434.90,736.05 Z" fill="#000"/>
<path d="M519.25,734.50 L510.95,736.05 L510.95,732.95 Z" fill="#000"/>
<line x1="426.60" y1="756.50" x2="543.00" y2="756.50" stroke="#1a1a1a" stroke-width="0.7" />
<path d="M426.60,756.50 L434.90,754.95 L434.90,758.05 Z" fill="#000"/>
<path d="M543.00,756.50 L534.70,758.05 L534.70,754.95 Z" fill="#000"/>
<line x1="519.25" y1="734.50" x2="560.00" y2="734.50" stroke="#1a1a1a" stroke-width="0.7" />
<path d="M543.00,734.50 L551.30,732.95 L551.30,736.05 Z" fill="#000"/>
<text transform="translate(473.25,728.00) rotate(0)" x="0" y="3.87" font-size="10.8" text-anchor="middle" fill="#222">K</text>
<text transform="translate(532.30,728.00) rotate(0)" x="0" y="3.87" font-size="10.8" text-anchor="middle" fill="#222" textLength="10.7" lengthAdjust="spacingAndGlyphs">10</text>
<text transform="translate(485.50,750.00) rotate(0)" x="0" y="3.87" font-size="10.8" text-anchor="middle" fill="#222">M</text>
</g>
<g id="rb">
<clipPath id="c7"><rect x="750.60" y="474.70" width="36.60" height="28.05"/></clipPath>
<g clip-path="url(#c7)">
<line x1="720.86" y1="474.70" x2="748.91" y2="502.75" stroke="#1a1a1a" stroke-width="0.85" />
<line x1="731.88" y1="474.70" x2="759.93" y2="502.75" stroke="#1a1a1a" stroke-width="0.85" />
<line x1="742.90" y1="474.70" x2="770.95" y2="502.75" stroke="#1a1a1a" stroke-width="0.85" />
<line x1="753.92" y1="474.70" x2="781.97" y2="502.75" stroke="#1a1a1a" stroke-width="0.85" />
<line x1="764.94" y1="474.70" x2="792.99" y2="502.75" stroke="#1a1a1a" stroke-width="0.85" />
<line x1="775.96" y1="474.70" x2="804.01" y2="502.75" stroke="#1a1a1a" stroke-width="0.85" />
<line x1="786.98" y1="474.70" x2="815.03" y2="502.75" stroke="#1a1a1a" stroke-width="0.85" />
<line x1="798.00" y1="474.70" x2="826.05" y2="502.75" stroke="#1a1a1a" stroke-width="0.85" />
</g>
<clipPath id="c8"><rect x="775.00" y="502.75" width="12.20" height="211.25"/></clipPath>
<g clip-path="url(#c8)">
<line x1="561.57" y1="502.75" x2="772.82" y2="714.00" stroke="#1a1a1a" stroke-width="0.85" />
<line x1="572.59" y1="502.75" x2="783.84" y2="714.00" stroke="#1a1a1a" stroke-width="0.85" />
<line x1="583.61" y1="502.75" x2="794.86" y2="714.00" stroke="#1a1a1a" stroke-width="0.85" />
<line x1="594.63" y1="502.75" x2="805.88" y2="714.00" stroke="#1a1a1a" stroke-width="0.85" />
<line x1="605.65" y1="502.75" x2="816.90" y2="714.00" stroke="#1a1a1a" stroke-width="0.85" />
<line x1="616.67" y1="502.75" x2="827.92" y2="714.00" stroke="#1a1a1a" stroke-width="0.85" />
<line x1="627.69" y1="502.75" x2="838.94" y2="714.00" stroke="#1a1a1a" stroke-width="0.85" />
<line x1="638.71" y1="502.75" x2="849.96" y2="714.00" stroke="#1a1a1a" stroke-width="0.85" />
<line x1="649.73" y1="502.75" x2="860.98" y2="714.00" stroke="#1a1a1a" stroke-width="0.85" />
<line x1="660.75" y1="502.75" x2="872.00" y2="714.00" stroke="#1a1a1a" stroke-width="0.85" />
<line x1="671.77" y1="502.75" x2="883.02" y2="714.00" stroke="#1a1a1a" stroke-width="0.85" />
<line x1="682.79" y1="502.75" x2="894.04" y2="714.00" stroke="#1a1a1a" stroke-width="0.85" />
<line x1="693.81" y1="502.75" x2="905.06" y2="714.00" stroke="#1a1a1a" stroke-width="0.85" />
<line x1="704.83" y1="502.75" x2="916.08" y2="714.00" stroke="#1a1a1a" stroke-width="0.85" />
<line x1="715.85" y1="502.75" x2="927.10" y2="714.00" stroke="#1a1a1a" stroke-width="0.85" />
<line x1="726.87" y1="502.75" x2="938.12" y2="714.00" stroke="#1a1a1a" stroke-width="0.85" />
<line x1="737.89" y1="502.75" x2="949.14" y2="714.00" stroke="#1a1a1a" stroke-width="0.85" />
<line x1="748.91" y1="502.75" x2="960.16" y2="714.00" stroke="#1a1a1a" stroke-width="0.85" />
<line x1="759.93" y1="502.75" x2="971.18" y2="714.00" stroke="#1a1a1a" stroke-width="0.85" />
<line x1="770.95" y1="502.75" x2="982.20" y2="714.00" stroke="#1a1a1a" stroke-width="0.85" />
<line x1="781.97" y1="502.75" x2="993.22" y2="714.00" stroke="#1a1a1a" stroke-width="0.85" />
<line x1="792.99" y1="502.75" x2="1004.24" y2="714.00" stroke="#1a1a1a" stroke-width="0.85" />
</g>
<clipPath id="c9"><rect x="630.20" y="677.20" width="28.00" height="36.60"/></clipPath>
<g clip-path="url(#c9)">
<line x1="583.39" y1="677.20" x2="619.99" y2="713.80" stroke="#1a1a1a" stroke-width="0.85" />
<line x1="594.36" y1="677.20" x2="630.96" y2="713.80" stroke="#1a1a1a" stroke-width="0.85" />
<line x1="605.33" y1="677.20" x2="641.93" y2="713.80" stroke="#1a1a1a" stroke-width="0.85" />
<line x1="616.30" y1="677.20" x2="652.90" y2="713.80" stroke="#1a1a1a" stroke-width="0.85" />
<line x1="627.27" y1="677.20" x2="663.87" y2="713.80" stroke="#1a1a1a" stroke-width="0.85" />
<line x1="638.24" y1="677.20" x2="674.84" y2="713.80" stroke="#1a1a1a" stroke-width="0.85" />
<line x1="649.21" y1="677.20" x2="685.81" y2="713.80" stroke="#1a1a1a" stroke-width="0.85" />
<line x1="660.18" y1="677.20" x2="696.78" y2="713.80" stroke="#1a1a1a" stroke-width="0.85" />
</g>
<clipPath id="c10"><rect x="658.20" y="701.20" width="116.80" height="12.60"/></clipPath>
<g clip-path="url(#c10)">
<line x1="640.30" y1="701.20" x2="652.90" y2="713.80" stroke="#1a1a1a" stroke-width="0.85" />
<line x1="651.27" y1="701.20" x2="663.87" y2="713.80" stroke="#1a1a1a" stroke-width="0.85" />
<line x1="662.24" y1="701.20" x2="674.84" y2="713.80" stroke="#1a1a1a" stroke-width="0.85" />
<line x1="673.21" y1="701.20" x2="685.81" y2="713.80" stroke="#1a1a1a" stroke-width="0.85" />
<line x1="684.18" y1="701.20" x2="696.78" y2="713.80" stroke="#1a1a1a" stroke-width="0.85" />
<line x1="695.15" y1="701.20" x2="707.75" y2="713.80" stroke="#1a1a1a" stroke-width="0.85" />
<line x1="706.12" y1="701.20" x2="718.72" y2="713.80" stroke="#1a1a1a" stroke-width="0.85" />
<line x1="717.09" y1="701.20" x2="729.69" y2="713.80" stroke="#1a1a1a" stroke-width="0.85" />
<line x1="728.06" y1="701.20" x2="740.66" y2="713.80" stroke="#1a1a1a" stroke-width="0.85" />
<line x1="739.03" y1="701.20" x2="751.63" y2="713.80" stroke="#1a1a1a" stroke-width="0.85" />
<line x1="750.00" y1="701.20" x2="762.60" y2="713.80" stroke="#1a1a1a" stroke-width="0.85" />
<line x1="760.97" y1="701.20" x2="773.57" y2="713.80" stroke="#1a1a1a" stroke-width="0.85" />
<line x1="771.94" y1="701.20" x2="784.54" y2="713.80" stroke="#1a1a1a" stroke-width="0.85" />
<line x1="782.91" y1="701.20" x2="795.51" y2="713.80" stroke="#1a1a1a" stroke-width="0.85" />
</g>
<clipPath id="c11"><rect x="775.00" y="701.20" width="12.20" height="12.60"/></clipPath>
<g clip-path="url(#c11)">
<line x1="760.02" y1="701.20" x2="772.62" y2="713.80" stroke="#1a1a1a" stroke-width="0.85" />
<line x1="771.04" y1="701.20" x2="783.64" y2="713.80" stroke="#1a1a1a" stroke-width="0.85" />
<line x1="782.06" y1="701.20" x2="794.66" y2="713.80" stroke="#1a1a1a" stroke-width="0.85" />
<line x1="793.08" y1="701.20" x2="805.68" y2="713.80" stroke="#1a1a1a" stroke-width="0.85" />
</g>
<rect x="658.5" y="515.2" width="104" height="180.3" fill="#ccffff" stroke="#444" stroke-width="0.75"/>
<line x1="750.50" y1="474.70" x2="750.50" y2="515.10" stroke="#1a1a1a" stroke-width="0.7" />
<line x1="750.50" y1="515.10" x2="750.50" y2="677.20" stroke="#444" stroke-width="1.2" stroke-dasharray="3.4,1.85"/>
<path d="M750.50,502.50 L775.50,502.50 L775.50,701.50 L658.50,701.50 L658.50,695.50" fill="none" stroke="#1a1a1a" stroke-width="0.8" />
<line x1="630.20" y1="677.50" x2="658.20" y2="677.50" stroke="#1a1a1a" stroke-width="0.8" />
<line x1="658.20" y1="677.50" x2="762.70" y2="677.50" stroke="#444" stroke-width="1.2" stroke-dasharray="3.4,1.85"/>
<line x1="762.70" y1="677.50" x2="775.00" y2="677.50" stroke="#1a1a1a" stroke-width="0.8" />
<line x1="762.50" y1="695.50" x2="762.50" y2="736.40" stroke="#1a1a1a" stroke-width="0.7" />
<line x1="658.50" y1="701.20" x2="658.50" y2="736.40" stroke="#1a1a1a" stroke-width="0.7" />
<line x1="658.50" y1="490.90" x2="658.50" y2="512.30" stroke="#1a1a1a" stroke-width="0.7" />
<line x1="658.20" y1="494.50" x2="750.60" y2="494.50" stroke="#1a1a1a" stroke-width="0.7" />
<path d="M658.20,494.50 L666.50,492.95 L666.50,496.05 Z" fill="#000"/>
<path d="M750.60,494.50 L742.30,496.05 L742.30,492.95 Z" fill="#000"/>
<text transform="translate(704.50,488.00) rotate(0)" x="0" y="3.87" font-size="10.8" text-anchor="middle" fill="#222">K</text>
<line x1="635.40" y1="515.50" x2="656.30" y2="515.50" stroke="#1a1a1a" stroke-width="0.7" />
<line x1="637.50" y1="515.10" x2="637.50" y2="677.20" stroke="#1a1a1a" stroke-width="0.7" />
<path d="M637.50,515.10 L639.05,523.40 L635.95,523.40 Z" fill="#000"/>
<path d="M637.50,677.20 L635.95,668.90 L639.05,668.90 Z" fill="#000"/>
<text transform="translate(631.20,596.00) rotate(-90)" x="0" y="4.15" font-size="11.6" text-anchor="middle" fill="#222" textLength="24.7" lengthAdjust="spacingAndGlyphs">2093</text>
<path d="M743.00,590.00 C743.59,589.75 745.21,588.82 746.51,588.50 C747.81,588.18 748.78,587.88 750.80,588.10 C752.81,588.32 756.20,589.10 758.60,589.80 C761.00,590.50 762.96,591.70 765.23,592.30 C767.50,592.90 770.30,593.23 772.25,593.40 C774.20,593.57 775.63,593.57 776.93,593.30 C778.23,593.03 779.20,592.35 780.05,591.80 C780.89,591.25 781.67,590.30 782.00,590.00" fill="none" stroke="#fff" stroke-width="3.4"/>
<path d="M743.00,588.80 C743.59,588.55 745.21,587.62 746.51,587.30 C747.81,586.98 748.78,586.68 750.80,586.90 C752.81,587.12 756.20,587.90 758.60,588.60 C761.00,589.30 762.96,590.50 765.23,591.10 C767.50,591.70 770.30,592.03 772.25,592.20 C774.20,592.37 775.63,592.37 776.93,592.10 C778.23,591.83 779.20,591.15 780.05,590.60 C780.89,590.05 781.67,589.10 782.00,588.80" fill="none" stroke="#555" stroke-width="0.6" stroke-dasharray="2.6,1.1"/>
<path d="M743.00,591.20 C743.59,590.95 745.21,590.02 746.51,589.70 C747.81,589.38 748.78,589.08 750.80,589.30 C752.81,589.52 756.20,590.30 758.60,591.00 C761.00,591.70 762.96,592.90 765.23,593.50 C767.50,594.10 770.30,594.43 772.25,594.60 C774.20,594.77 775.63,594.77 776.93,594.50 C778.23,594.23 779.20,593.55 780.05,593.00 C780.89,592.45 781.67,591.50 782.00,591.20" fill="none" stroke="#555" stroke-width="0.6" stroke-dasharray="2.6,1.1"/>
<path d="M718.50,669.40 C718.22,670.06 717.27,672.04 716.80,673.36 C716.33,674.68 715.82,676.00 715.70,677.32 C715.58,678.64 715.83,679.83 716.10,681.28 C716.37,682.73 716.70,683.72 717.30,686.03 C717.90,688.34 719.27,692.76 719.70,695.14 C720.13,697.52 719.98,698.64 719.90,700.29 C719.82,701.94 719.50,703.59 719.20,705.04 C718.90,706.49 718.28,708.34 718.10,709.00" fill="none" stroke="#fff" stroke-width="3.4"/>
<path d="M717.30,669.40 C717.02,670.06 716.07,672.04 715.60,673.36 C715.13,674.68 714.62,676.00 714.50,677.32 C714.38,678.64 714.63,679.83 714.90,681.28 C715.17,682.73 715.50,683.72 716.10,686.03 C716.70,688.34 718.07,692.76 718.50,695.14 C718.93,697.52 718.78,698.64 718.70,700.29 C718.62,701.94 718.30,703.59 718.00,705.04 C717.70,706.49 717.08,708.34 716.90,709.00" fill="none" stroke="#555" stroke-width="0.6" stroke-dasharray="2.6,1.1"/>
<path d="M719.70,669.40 C719.42,670.06 718.47,672.04 718.00,673.36 C717.53,674.68 717.02,676.00 716.90,677.32 C716.78,678.64 717.03,679.83 717.30,681.28 C717.57,682.73 717.90,683.72 718.50,686.03 C719.10,688.34 720.47,692.76 720.90,695.14 C721.33,697.52 721.18,698.64 721.10,700.29 C721.02,701.94 720.70,703.59 720.40,705.04 C720.10,706.49 719.48,708.34 719.30,709.00" fill="none" stroke="#555" stroke-width="0.6" stroke-dasharray="2.6,1.1"/>
<line x1="658.20" y1="734.50" x2="762.70" y2="734.50" stroke="#1a1a1a" stroke-width="0.7" />
<path d="M658.20,734.50 L666.50,732.95 L666.50,736.05 Z" fill="#000"/>
<path d="M762.70,734.50 L754.40,736.05 L754.40,732.95 Z" fill="#000"/>
<text transform="translate(710.50,728.00) rotate(0)" x="0" y="3.87" font-size="10.8" text-anchor="middle" fill="#222">L</text>
</g>
<g id="table">
<line x1="12.50" y1="642.50" x2="385.00" y2="642.50" stroke="#6a6a6a" stroke-width="0.9" />
<line x1="12.50" y1="657.50" x2="385.00" y2="657.50" stroke="#6a6a6a" stroke-width="0.9" />
<line x1="12.50" y1="671.50" x2="385.00" y2="671.50" stroke="#6a6a6a" stroke-width="0.9" />
<line x1="12.50" y1="686.50" x2="385.00" y2="686.50" stroke="#6a6a6a" stroke-width="0.9" />
<line x1="12.50" y1="700.50" x2="385.00" y2="700.50" stroke="#6a6a6a" stroke-width="0.9" />
<line x1="12.50" y1="715.50" x2="385.00" y2="715.50" stroke="#6a6a6a" stroke-width="0.9" />
<line x1="12.50" y1="729.50" x2="385.00" y2="729.50" stroke="#6a6a6a" stroke-width="0.9" />
<line x1="12.50" y1="743.50" x2="385.00" y2="743.50" stroke="#6a6a6a" stroke-width="0.9" />
<line x1="12.50" y1="758.50" x2="385.00" y2="758.50" stroke="#6a6a6a" stroke-width="0.9" />
<line x1="12.50" y1="772.50" x2="385.00" y2="772.50" stroke="#6a6a6a" stroke-width="0.9" />
<line x1="12.50" y1="642.50" x2="12.50" y2="772.50" stroke="#6a6a6a" stroke-width="0.9" />
<line x1="268.50" y1="642.50" x2="268.50" y2="772.50" stroke="#6a6a6a" stroke-width="0.9" />
<line x1="308.50" y1="642.50" x2="308.50" y2="772.50" stroke="#6a6a6a" stroke-width="0.9" />
<line x1="346.50" y1="642.50" x2="346.50" y2="772.50" stroke="#6a6a6a" stroke-width="0.9" />
<line x1="385.50" y1="642.50" x2="385.50" y2="772.50" stroke="#6a6a6a" stroke-width="0.9" />
<text transform="translate(140.60,650.20) rotate(0)" x="0" y="3.87" font-size="10.8" text-anchor="middle" fill="#3a3a3a">MODEL</text>
<text transform="translate(288.20,650.20) rotate(0)" x="0" y="3.87" font-size="10.8" text-anchor="middle" fill="#3a3a3a">K</text>
<text transform="translate(326.80,650.20) rotate(0)" x="0" y="3.87" font-size="10.8" text-anchor="middle" fill="#3a3a3a">L</text>
<text transform="translate(365.60,650.20) rotate(0)" x="0" y="3.87" font-size="10.8" text-anchor="middle" fill="#3a3a3a">M</text>
<text transform="translate(14.00,665.00) rotate(0)" x="0" y="3.87" font-size="10.8" text-anchor="start" fill="#3a3a3a" textLength="226.8" lengthAdjust="spacingAndGlyphs">ES1070 / ES1170 / ES1270 / ES1370 / ES1570</text>
<text transform="translate(288.25,665.00) rotate(0)" x="0" y="3.87" font-size="10.8" text-anchor="middle" fill="#3a3a3a" textLength="17.5" lengthAdjust="spacingAndGlyphs">662</text>
<text transform="translate(326.60,665.00) rotate(0)" x="0" y="3.87" font-size="10.8" text-anchor="middle" fill="#3a3a3a" textLength="17.5" lengthAdjust="spacingAndGlyphs">667</text>
<text transform="translate(365.60,665.00) rotate(0)" x="0" y="3.87" font-size="10.8" text-anchor="middle" fill="#3a3a3a" textLength="17.5" lengthAdjust="spacingAndGlyphs">672</text>
<text transform="translate(14.00,679.00) rotate(0)" x="0" y="3.87" font-size="10.8" text-anchor="start" fill="#3a3a3a" textLength="226.8" lengthAdjust="spacingAndGlyphs">ES1080 / ES1180 / ES1280 / ES1380 / ES1580</text>
<text transform="translate(288.25,679.00) rotate(0)" x="0" y="3.87" font-size="10.8" text-anchor="middle" fill="#3a3a3a" textLength="17.5" lengthAdjust="spacingAndGlyphs">762</text>
<text transform="translate(326.60,679.00) rotate(0)" x="0" y="3.87" font-size="10.8" text-anchor="middle" fill="#3a3a3a" textLength="17.5" lengthAdjust="spacingAndGlyphs">767</text>
<text transform="translate(365.60,679.00) rotate(0)" x="0" y="3.87" font-size="10.8" text-anchor="middle" fill="#3a3a3a" textLength="17.5" lengthAdjust="spacingAndGlyphs">772</text>
<text transform="translate(14.00,694.00) rotate(0)" x="0" y="3.87" font-size="10.8" text-anchor="start" fill="#3a3a3a" textLength="226.8" lengthAdjust="spacingAndGlyphs">ES1090 / ES1190 / ES1290 / ES1390 / ES1590</text>
<text transform="translate(288.25,694.00) rotate(0)" x="0" y="3.87" font-size="10.8" text-anchor="middle" fill="#3a3a3a" textLength="17.5" lengthAdjust="spacingAndGlyphs">862</text>
<text transform="translate(326.60,694.00) rotate(0)" x="0" y="3.87" font-size="10.8" text-anchor="middle" fill="#3a3a3a" textLength="17.5" lengthAdjust="spacingAndGlyphs">867</text>
<text transform="translate(365.60,694.00) rotate(0)" x="0" y="3.87" font-size="10.8" text-anchor="middle" fill="#3a3a3a" textLength="17.5" lengthAdjust="spacingAndGlyphs">872</text>
<text transform="translate(14.00,708.00) rotate(0)" x="0" y="3.87" font-size="10.8" text-anchor="start" fill="#3a3a3a" textLength="226.8" lengthAdjust="spacingAndGlyphs">ES1010 / ES1110 / ES1210 / ES1310 / ES1510</text>
<text transform="translate(288.25,708.00) rotate(0)" x="0" y="3.87" font-size="10.8" text-anchor="middle" fill="#3a3a3a" textLength="17.5" lengthAdjust="spacingAndGlyphs">962</text>
<text transform="translate(326.60,708.00) rotate(0)" x="0" y="3.87" font-size="10.8" text-anchor="middle" fill="#3a3a3a" textLength="17.5" lengthAdjust="spacingAndGlyphs">967</text>
<text transform="translate(365.60,708.00) rotate(0)" x="0" y="3.87" font-size="10.8" text-anchor="middle" fill="#3a3a3a" textLength="17.5" lengthAdjust="spacingAndGlyphs">972</text>
<text transform="translate(14.00,723.00) rotate(0)" x="0" y="3.87" font-size="10.8" text-anchor="start" fill="#3a3a3a" textLength="226.8" lengthAdjust="spacingAndGlyphs">ES1011 / ES1111 / ES1211 / ES1311 / ES1511</text>
<text transform="translate(288.25,723.00) rotate(0)" x="0" y="3.87" font-size="10.8" text-anchor="middle" fill="#3a3a3a" textLength="23.7" lengthAdjust="spacingAndGlyphs">1062</text>
<text transform="translate(326.60,723.00) rotate(0)" x="0" y="3.87" font-size="10.8" text-anchor="middle" fill="#3a3a3a" textLength="23.7" lengthAdjust="spacingAndGlyphs">1067</text>
<text transform="translate(365.60,723.00) rotate(0)" x="0" y="3.87" font-size="10.8" text-anchor="middle" fill="#3a3a3a" textLength="23.7" lengthAdjust="spacingAndGlyphs">1072</text>
<text transform="translate(14.00,737.00) rotate(0)" x="0" y="3.87" font-size="10.8" text-anchor="start" fill="#3a3a3a" textLength="226.8" lengthAdjust="spacingAndGlyphs">ES1012 / ES1112 / ES1212 / ES1312 / ES1512</text>
<text transform="translate(288.25,737.00) rotate(0)" x="0" y="3.87" font-size="10.8" text-anchor="middle" fill="#3a3a3a" textLength="23.7" lengthAdjust="spacingAndGlyphs">1162</text>
<text transform="translate(326.60,737.00) rotate(0)" x="0" y="3.87" font-size="10.8" text-anchor="middle" fill="#3a3a3a" textLength="23.7" lengthAdjust="spacingAndGlyphs">1167</text>
<text transform="translate(365.60,737.00) rotate(0)" x="0" y="3.87" font-size="10.8" text-anchor="middle" fill="#3a3a3a" textLength="23.7" lengthAdjust="spacingAndGlyphs">1172</text>
<text transform="translate(14.00,751.00) rotate(0)" x="0" y="3.87" font-size="10.8" text-anchor="start" fill="#3a3a3a" textLength="226.8" lengthAdjust="spacingAndGlyphs">ES1013 / ES1113 / ES1213 / ES1313 / ES1513</text>
<text transform="translate(288.25,751.00) rotate(0)" x="0" y="3.87" font-size="10.8" text-anchor="middle" fill="#3a3a3a" textLength="23.7" lengthAdjust="spacingAndGlyphs">1262</text>
<text transform="translate(326.60,751.00) rotate(0)" x="0" y="3.87" font-size="10.8" text-anchor="middle" fill="#3a3a3a" textLength="23.7" lengthAdjust="spacingAndGlyphs">1267</text>
<text transform="translate(365.60,751.00) rotate(0)" x="0" y="3.87" font-size="10.8" text-anchor="middle" fill="#3a3a3a" textLength="23.7" lengthAdjust="spacingAndGlyphs">1272</text>
<text transform="translate(14.00,766.00) rotate(0)" x="0" y="3.87" font-size="10.8" text-anchor="start" fill="#3a3a3a" textLength="226.8" lengthAdjust="spacingAndGlyphs">ES1014 / ES1114 / ES1214 / ES1314 / ES1514</text>
<text transform="translate(288.25,766.00) rotate(0)" x="0" y="3.87" font-size="10.8" text-anchor="middle" fill="#3a3a3a" textLength="23.7" lengthAdjust="spacingAndGlyphs">1362</text>
<text transform="translate(326.60,766.00) rotate(0)" x="0" y="3.87" font-size="10.8" text-anchor="middle" fill="#3a3a3a" textLength="23.7" lengthAdjust="spacingAndGlyphs">1367</text>
<text transform="translate(365.60,766.00) rotate(0)" x="0" y="3.87" font-size="10.8" text-anchor="middle" fill="#3a3a3a" textLength="23.7" lengthAdjust="spacingAndGlyphs">1372</text>
</g>
</svg>
</body></html>
